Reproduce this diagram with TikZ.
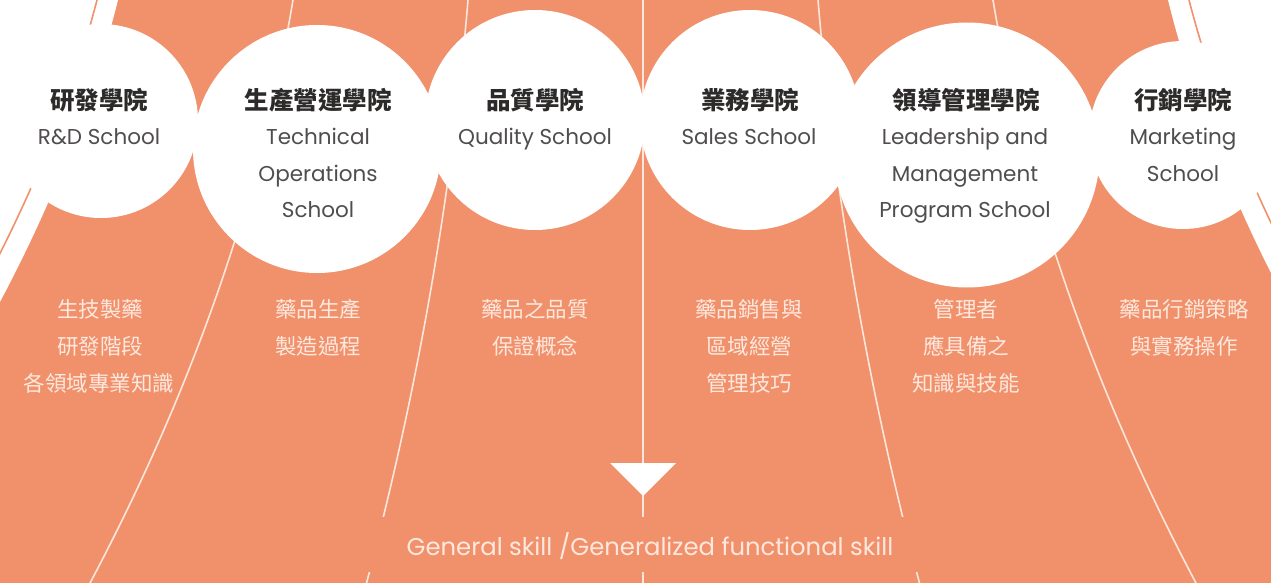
\documentclass[tikz,border=0pt]{standalone}
\usepackage{fontspec}
\setmainfont{Poppins}
\newfontfamily\cjk{Noto Sans CJK TC}
\definecolor{orng}{RGB}{241,145,108}
\definecolor{ttl}{RGB}{45,42,42}
\definecolor{engc}{RGB}{80,77,77}
\definecolor{wtxt}{RGB}{253,232,222}
\definecolor{wline}{RGB}{252,230,220}
\def\fanf{(1+0.0476*\u+0.0089*\u*\u)}
\begin{document}
\begin{tikzpicture}[x=1pt,y=-1pt,
  circ/.style={circle,fill=white,inner sep=0pt,draw=none},
  ttlt/.style={anchor=base,font=\cjk\bfseries\fontsize{24.5}{24.5}\selectfont,text=ttl},
  engt/.style={anchor=base,font=\fontsize{21.5}{21.5}\selectfont,text=engc},
  desct/.style={anchor=base,font=\cjk\fontsize{21.5}{21.5}\selectfont,text=wtxt},
  fanline/.style={draw=wline,line width=1.6pt},
  thinline/.style={draw=orng,line width=1.6pt}]
\useasboundingbox (0,0) rectangle (1271,583);
\clip (0,0) rectangle (1271,583);
% body
\fill[orng] (0,0) rectangle (1271,583);
\fill[white] (-30,600) -- (-30,-10) -- plot[domain=-0.1:6,samples=70,variable=\u] ({643-525*\fanf},{100*\u}) -- cycle;
\fill[white] (1301,600) -- (1301,-10) -- plot[domain=-0.1:6,samples=70,variable=\u] ({643+525*\fanf},{100*\u}) -- cycle;
% thin outer orange lines
\draw[thinline] plot[domain=-0.1:3.3,samples=40,variable=\u] ({643-546*\fanf},{100*\u});
\draw[thinline] plot[domain=-0.1:3.3,samples=40,variable=\u] ({643+546*\fanf},{100*\u});
% fan lines
\foreach \d in {-350,-175,175,350}{
  \draw[fanline] plot[domain=-0.1:6,samples=70,variable=\u] ({643+\d*\fanf},{100*\u});
}
\draw[fanline] (643,-5) -- (643,590);
% text band
\fill[orng] (355,517) rectangle (930,572);
% triangle
\fill[white] (610,463) -- (676,463) -- (643,496) -- cycle;
% circles
\node[circ,minimum size=194pt] (c1) at (101,121) {};
\node[circ,minimum size=248pt] (c2) at (317,149) {};
\node[circ,minimum size=220pt] (c3) at (535,120) {};
\node[circ,minimum size=220pt] (c4) at (750,120) {};
\node[circ,minimum size=265pt] (c5) at (967,155) {};
\node[circ,minimum size=188pt] (c6) at (1183,135) {};
% titles
\node[ttlt] (t1) at (99,110) {研發學院};
\node[ttlt] (t2) at (318,110) {生產營運學院};
\node[ttlt] (t3) at (535,110) {品質學院};
\node[ttlt] (t4) at (750,110) {業務學院};
\node[ttlt] (t5) at (966,110) {領導管理學院};
\node[ttlt] (t6) at (1183,110) {行銷學院};
% english
\node[engt] (e1) at (99,145) {R\&D School};
\node[engt] (e2a) at (318,145) {Technical};
\node[engt] (e2b) at (318,181) {Operations};
\node[engt] (e2c) at (318,217) {School};
\node[engt] (e3) at (535,145) {Quality School};
\node[engt] (e4) at (749,145) {Sales School};
\node[engt] (e5a) at (965,145) {Leadership and};
\node[engt] (e5b) at (965,181) {Management};
\node[engt] (e5c) at (965,217) {Program School};
\node[engt] (e6a) at (1183,145) {Marketing};
\node[engt] (e6b) at (1183,181) {School};
% descriptions
\node[desct] (d1a) at (100,317) {生技製藥};
\node[desct] (d1b) at (100,354) {研發階段};
\node[desct] (d1c) at (99,391) {各領域專業知識};
\node[desct] (d2a) at (318,317) {藥品生產};
\node[desct] (d2b) at (318,354) {製造過程};
\node[desct] (d3a) at (535,317) {藥品之品質};
\node[desct] (d3b) at (535,354) {保證概念};
\node[desct] (d4a) at (749,317) {藥品銷售與};
\node[desct] (d4b) at (749,354) {區域經營};
\node[desct] (d4c) at (749,391) {管理技巧};
\node[desct] (d5a) at (966,317) {管理者};
\node[desct] (d5b) at (966,354) {應具備之};
\node[desct] (d5c) at (966,391) {知識與技能};
\node[desct] (d6a) at (1184,317) {藥品行銷策略};
\node[desct] (d6b) at (1184,354) {與實務操作};
% bottom
\node[anchor=base,font=\fontsize{24.3}{24.3}\selectfont,text=wtxt] (gen) at (650,555) {General skill /Generalized functional skill};
\end{tikzpicture}
\end{document}
